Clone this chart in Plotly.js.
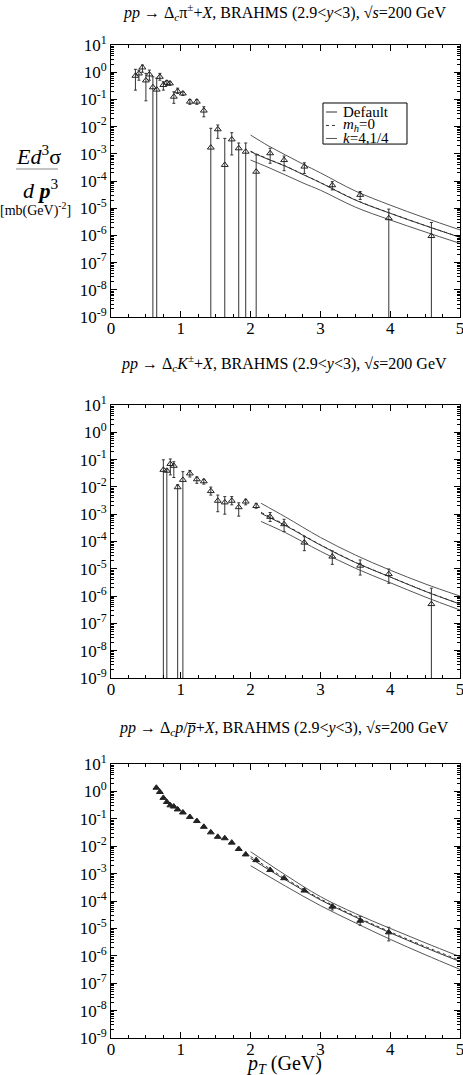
<!DOCTYPE html>
<html>
<head>
<meta charset="utf-8">
<script src="https://cdn.plot.ly/plotly-3.0.1.min.js"></script>
<style>
  body { margin: 0; background: #fff; }
  #chart { width: 463px; height: 1075px; }
</style>
</head>
<body>
<div id="chart"></div>
<script>
// --- pi+- data (pT, value, upper, lower; 1e-12 = bar runs off the bottom)
var x1 = [0.35, 0.40, 0.45, 0.50, 0.55, 0.60, 0.655, 0.70, 0.75, 0.80, 0.845, 0.90, 0.955, 1.03, 1.13, 1.23, 1.33,
          1.43, 1.53, 1.63, 1.73, 1.83, 1.93, 2.08, 2.28, 2.48, 2.77, 3.17, 3.57, 3.98, 4.59];
var y1 = [0.74, 0.9, 1.5, 0.5, 0.83, 0.28, 0.23, 0.68, 0.34, 0.41, 0.39, 0.126, 0.2, 0.166, 0.083, 0.083, 0.039,
          1.7e-3, 8e-3, 3.9e-4, 3.4e-3, 1.6e-3, 1.2e-3, 2.2e-4, 1.05e-3, 5.9e-4, 3.4e-4, 7e-5, 3.1e-5, 4.3e-6, 9.5e-7];
var y1hi = [1.28, 1.2, 1.84, 0.91, 1.2, 0.68, 0.6, 0.91, 0.45, 0.5, 0.45, 0.19, 0.26, 0.19, 0.1, 0.1, 0.054,
            8.7e-3, 0.0115, 3.7e-3, 6e-3, 2.5e-3, 2.5e-3, 9.1e-4, 1.6e-3, 8.3e-4, 4.7e-4, 9.5e-5, 4.1e-5, 9.3e-6, 3e-6];
var y1lo = [0.22, 0.51, 1.0, 0.089, 0.51, 1e-12, 1e-12, 0.51, 0.22, 0.33, 0.33, 0.072, 0.166, 0.14, 0.066, 0.066, 0.023,
            1e-12, 3.7e-3, 1e-12, 9.1e-4, 1e-12, 1e-12, 1e-12, 4.5e-4, 2.4e-4, 1.9e-4, 4.7e-5, 2.1e-5, 1e-12, 1e-12];

// --- K+- data
var x2 = [0.75, 0.80, 0.85, 0.90, 0.955, 1.03, 1.13, 1.23, 1.33, 1.43, 1.53, 1.63, 1.73, 1.83, 1.93, 2.08,
          2.28, 2.48, 2.77, 3.17, 3.57, 3.98, 4.59];
var y2 = [0.042, 0.039, 0.069, 0.059, 9.7e-3, 0.018, 0.031, 0.019, 0.016, 7e-3, 3.1e-3, 2.7e-3, 3.1e-3, 1.8e-3, 2.9e-3, 2e-3,
          8e-4, 4.3e-4, 9.1e-5, 2.8e-5, 1.3e-5, 6.4e-6, 5.1e-7];
var y2hi = [0.098, 0.045, 0.105, 0.083, 0.012, 0.036, 0.04, 0.023, 0.019, 9.8e-3, 5e-3, 4.4e-3, 4.4e-3, 2.6e-3, 3.5e-3, 2.5e-3,
            1.15e-3, 6.5e-4, 1.5e-4, 4.5e-5, 2.1e-5, 9.8e-6, 1.95e-6];
var y2lo = [1e-12, 1e-12, 0.0275, 0.022, 1e-12, 1e-12, 0.023, 0.0135, 0.0126, 5e-3, 1.23e-3, 1e-3, 2.2e-3, 8.5e-4, 2.2e-3, 1.65e-3,
            5.4e-4, 2.3e-4, 4.6e-5, 1.45e-5, 5.9e-6, 2.95e-6, 1e-12];

// --- p/pbar data
var x3 = [0.65, 0.70, 0.75, 0.80, 0.85, 0.90, 0.955, 1.03, 1.13, 1.23, 1.33, 1.43, 1.53, 1.63, 1.73, 1.83, 1.93,
          2.08, 2.28, 2.48, 2.77, 3.17, 3.57, 3.98];
var y3 = [1.36, 0.95, 0.58, 0.41, 0.31, 0.28, 0.22, 0.17, 0.117, 0.083, 0.051, 0.032, 0.022, 0.0195, 0.0135, 7.9e-3, 5e-3,
          3.1e-3, 1.35e-3, 6.8e-4, 2.4e-4, 6.2e-5, 1.9e-5, 7.2e-6];
var y3hi = [1.36, 0.95, 0.58, 0.41, 0.31, 0.28, 0.22, 0.17, 0.117, 0.083, 0.051, 0.032, 0.022, 0.0195, 0.0135, 7.9e-3, 5e-3,
            3.1e-3, 1.35e-3, 6.8e-4, 2.4e-4, 7.6e-5, 2.7e-5, 1.1e-5];
var y3lo = [1.36, 0.95, 0.58, 0.41, 0.31, 0.28, 0.22, 0.17, 0.117, 0.083, 0.051, 0.032, 0.022, 0.0195, 0.0135, 7.9e-3, 5e-3,
            3.1e-3, 1.35e-3, 6.8e-4, 2.4e-4, 4.7e-5, 1.3e-5, 3.5e-6];

// --- model curves
var c1x = [2, 2.25, 2.5, 2.75, 3, 3.5, 4, 4.5, 5];
var c1hi = [4.9e-3, 2.0e-3, 9.1e-4, 4.2e-4, 2.0e-4, 4.3e-5, 1.3e-5, 4.4e-6, 1.6e-6];
var c1def = [1.2e-3, 6.3e-4, 3.5e-4, 1.74e-4, 8.7e-5, 2.0e-5, 6.5e-6, 2.3e-6, 8.5e-7];
var c1mh = [1.25e-3, 6.5e-4, 3.55e-4, 1.77e-4, 8.8e-5, 2.05e-5, 6.6e-6, 2.32e-6, 8.6e-7];
var c1lo = [5.9e-4, 3.2e-4, 1.66e-4, 8.5e-5, 4.6e-5, 1.1e-5, 3.7e-6, 1.35e-6, 5.1e-7];

var c2x = [2.15, 2.5, 3, 3.5, 4, 4.5, 5];
var c2hi = [2.5e-3, 7.9e-4, 1.41e-4, 3.2e-5, 8.9e-6, 2.8e-6, 1.0e-6];
var c2def = [1.07e-3, 3.8e-4, 7.4e-5, 1.7e-5, 5.0e-6, 1.5e-6, 5.1e-7];
var c2mh = [1.17e-3, 4.0e-4, 7.6e-5, 1.73e-5, 5.05e-6, 1.52e-6, 5.15e-7];
var c2lo = [5.4e-4, 2.1e-4, 4.4e-5, 1.05e-5, 3.1e-6, 9.3e-7, 3.1e-7];

var c3x = [2, 2.5, 3, 3.5, 4, 4.5, 5];
var c3hi = [6.3e-3, 8.9e-4, 1.45e-4, 3.5e-5, 1.0e-5, 3.0e-6, 9.3e-7];
var c3def = [3.6e-3, 5.9e-4, 1.1e-4, 2.6e-5, 6.9e-6, 2.0e-6, 6.2e-7];
var c3mh = [4.2e-3, 6.6e-4, 1.2e-4, 2.8e-5, 7.5e-6, 2.2e-6, 6.8e-7];
var c3lo = [1.95e-3, 3.5e-4, 6.8e-5, 1.6e-5, 4.0e-6, 1.1e-6, 3.2e-7];

var titles = [
  '<i>pp</i> → Δ<sub><i>c</i></sub>π<sup>±</sup>+<i>X</i>, BRAHMS (2.9&lt;<i>y</i>&lt;3), √<i>s</i>=200 GeV',
  '<i>pp</i> → Δ<sub><i>c</i></sub><i>K</i><sup>±</sup>+<i>X</i>, BRAHMS (2.9&lt;<i>y</i>&lt;3), √<i>s</i>=200 GeV',
  '<i>pp</i> → Δ<sub><i>c</i></sub><i>p</i>/<i>p̅</i>+<i>X</i>, BRAHMS (2.9&lt;<i>y</i>&lt;3), √<i>s</i>=200 GeV'
];
var legendNames = ['Default', '<i>m<sub>h</sub></i>=0', '<i>k</i>=4,1/4'];

var logVals = [1e-9, 1e-8, 1e-7, 1e-6, 1e-5, 1e-4, 1e-3, 1e-2, 1e-1, 1, 10];
var logText = ['10<sup>-9</sup>', '10<sup>-8</sup>', '10<sup>-7</sup>', '10<sup>-6</sup>', '10<sup>-5</sup>',
               '10<sup>-4</sup>', '10<sup>-3</sup>', '10<sup>-2</sup>', '10<sup>-1</sup>', '10<sup>0</sup>', '10<sup>1</sup>'];

var FONT = 'Liberation Serif';

function pts(x, y, hi, lo, xa, ya, filled) {
  return {
    x: x, y: y, xaxis: xa, yaxis: ya, type: 'scatter', mode: 'markers', showlegend: false,
    marker: {symbol: filled ? 'triangle-up' : 'triangle-up-open', size: 6, color: '#222',
             line: {width: 1, color: '#222'}},
    error_y: {type: 'data', symmetric: false,
              array: y.map(function (v, i) { return hi[i] - v; }),
              arrayminus: y.map(function (v, i) { return v - lo[i]; }),
              color: '#333', thickness: 1, width: 1.5}
  };
}

function curve(x, y, xa, ya, col, dash) {
  return {x: x, y: y, xaxis: xa, yaxis: ya, type: 'scatter', mode: 'lines', showlegend: false,
          line: {color: col, width: 1, dash: dash, shape: 'spline'}};
}

var data = [];
[[c1x, c1def, c1mh, c1hi, c1lo, 'x', 'y'],
 [c2x, c2def, c2mh, c2hi, c2lo, 'x2', 'y2'],
 [c3x, c3def, c3mh, c3hi, c3lo, 'x3', 'y3']].forEach(function (c) {
  data.push(curve(c[0], c[1], c[5], c[6], '#333', 'solid'));
  data.push(curve(c[0], c[2], c[5], c[6], '#333', 'dot'));
  data.push(curve(c[0], c[3], c[5], c[6], '#555', 'solid'));
  data.push(curve(c[0], c[4], c[5], c[6], '#555', 'solid'));
});
data.push(pts(x1, y1, y1hi, y1lo, 'x', 'y', false));
data.push(pts(x2, y2, y2hi, y2lo, 'x2', 'y2', false));
data.push(pts(x3, y3, y3hi, y3lo, 'x3', 'y3', true));

function xax(anchor) {
  return {anchor: anchor, range: [0, 5], tickvals: [0, 1, 2, 3, 4, 5], ticks: 'inside', ticklen: 6,
          tickcolor: '#000', showline: true, linecolor: '#000', linewidth: 1, mirror: 'allticks',
          showgrid: false, zeroline: false, ticklabeloverflow: 'allow', ticklabelstandoff: -4,
          tickfont: {family: FONT, size: 17, color: '#000'},
          minor: {dtick: 0.25, ticks: 'inside', ticklen: 3, tickcolor: '#000', showgrid: false}};
}
function yax(anchor, dom) {
  return {anchor: anchor, domain: dom, type: 'log', range: [-9, 1], tickvals: logVals, ticktext: logText,
          ticks: 'inside', ticklen: 6, tickcolor: '#000', showline: true, linecolor: '#000', linewidth: 1,
          mirror: 'allticks', showgrid: false, zeroline: false,
          tickfont: {family: FONT, size: 17, color: '#000'},
          minor: {dtick: 'D1', ticks: 'inside', ticklen: 3, tickcolor: '#000', showgrid: false}};
}

function ann(text, x, y, size, xanchor) {
  return {text: text, xref: 'paper', yref: 'paper', x: x, y: y, xanchor: xanchor || 'center',
          yanchor: 'middle', showarrow: false, font: {family: FONT, size: size, color: '#000'}};
}

// framed key in panel 1
var legRows = [0.8958, 0.8833, 0.8712];
var legDash = ['solid', 'dot', 'solid'];
var legCol = ['#333', '#333', '#555'];
var shapes = [
  {type: 'rect', xref: 'paper', yref: 'paper', x0: 0.6074, x1: 0.8481, y0: 0.8660, y1: 0.9042,
   fillcolor: '#fff', line: {color: '#000', width: 1}},
  {type: 'line', xref: 'paper', yref: 'paper', x0: -0.272, x1: -0.152, y0: 0.8428, y1: 0.8428,
   line: {color: '#888', width: 1}}
];
var annotations = [
  ann(titles[0], 0.497, 0.9888, 16),
  ann(titles[1], 0.497, 0.6623, 16),
  ann(titles[2], 0.497, 0.3226, 16),
  ann('<i>p</i><sub><i>T</i></sub> (GeV)', 0.497, 0.0100, 20),
  ann('<i>Ed</i><sup>3</sup>σ', -0.209, 0.8555, 22),
  ann('<i>d</i> <b><i>p</i></b><sup>3</sup>', -0.200, 0.8245, 22),
  ann('[mb(GeV)<sup>-2</sup>]', -0.215, 0.8055, 14)
];
legRows.forEach(function (yy, i) {
  shapes.push({type: 'line', xref: 'paper', yref: 'paper', x0: 0.616, x1: 0.6476, y0: yy, y1: yy,
               line: {color: legCol[i], width: 1, dash: legDash[i]}});
  annotations.push(ann(legendNames[i], 0.659, yy, 15, 'left'));
});

var layout = {
  width: 463, height: 1075,
  margin: {l: 111, r: 3, t: 0, b: 0},
  paper_bgcolor: '#fff', plot_bgcolor: '#fff',
  font: {family: FONT, color: '#000'},
  xaxis: xax('y'), xaxis2: xax('y2'), xaxis3: xax('y3'),
  yaxis: yax('x', [0.7051, 0.9581]),
  yaxis2: yax('x2', [0.3693, 0.6233]),
  yaxis3: yax('x3', [0.0344, 0.2893]),
  showlegend: false,
  annotations: annotations,
  shapes: shapes
};

Plotly.newPlot('chart', data, layout, {staticPlot: true});
</script>
</body>
</html>
